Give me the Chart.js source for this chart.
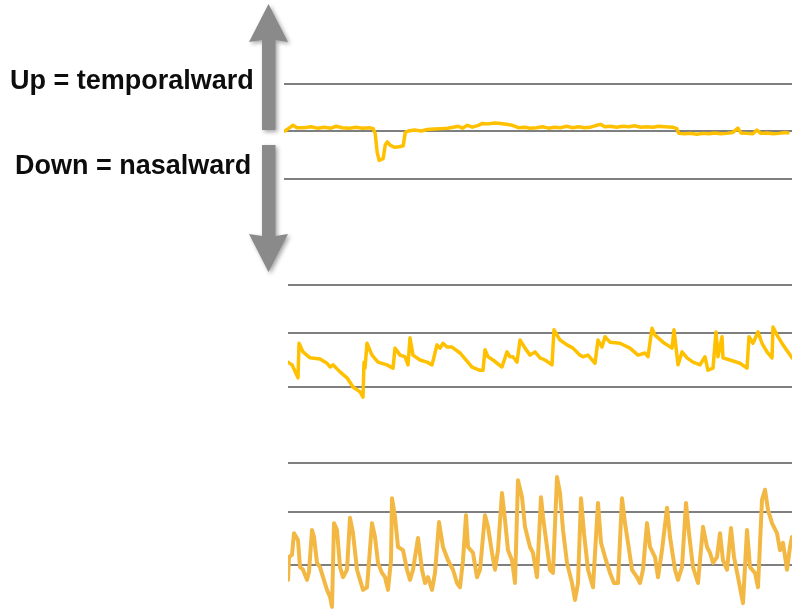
<!DOCTYPE html>
<html><head><meta charset="utf-8">
<script src="https://cdn.jsdelivr.net/npm/chart.js@4.4.1/dist/chart.umd.min.js"></script>
<style>
html,body{margin:0;padding:0;width:792px;height:612px;overflow:hidden;background:#fff;}
canvas{position:absolute;left:0;}
.lbl{position:absolute;font-family:'Liberation Sans',Arial,sans-serif;font-weight:bold;font-size:27px;line-height:27px;color:#0d0d0d;white-space:nowrap;}
</style></head><body>
<canvas id="c1" width="792" height="285" style="top:0px"></canvas>
<canvas id="c2" width="792" height="230" style="top:220px"></canvas>
<canvas id="c3" width="792" height="220" style="top:400px"></canvas>
<div class="lbl" style="left:10px;top:67px">Up = temporalward</div>
<div class="lbl" style="left:15px;top:152px">Down = nasalward</div>
<script>
// Time (deciseconds) and horizontal eye position (arbitrary units; + = temporalward)
const topTime = [1,5,9,13,20,27,33,40,47,52,58,65,72,78,85,89,91,93,95,97,99,101,103,106,110,115,119,121,124,130,137,143,150,157,163,169,174,178,183,188,194,198,204,210,216,222,228,234,240,246,252,258,264,270,276,282,288,294,300,306,312,316,320,326,332,338,344,350,356,362,368,374,380,388,392,394,400,406,412,418,424,430,436,442,448,453,456,462,468,472,476,482,488,494,500,503];
const topPos  = [0.0,0.06,0.12,0.07,0.07,0.09,0.06,0.08,0.06,0.1,0.07,0.06,0.08,0.06,0.07,0.05,-0.05,-0.45,-0.62,-0.6,-0.58,-0.3,-0.23,-0.3,-0.34,-0.33,-0.31,-0.03,0.0,0.02,0.0,0.03,0.04,0.05,0.06,0.08,0.1,0.06,0.12,0.08,0.12,0.16,0.15,0.17,0.16,0.14,0.12,0.07,0.08,0.06,0.07,0.09,0.06,0.08,0.07,0.1,0.07,0.09,0.07,0.08,0.12,0.14,0.09,0.1,0.08,0.1,0.09,0.11,0.08,0.09,0.08,0.1,0.09,0.08,0.05,-0.05,-0.06,-0.05,-0.07,-0.05,-0.06,-0.04,-0.06,-0.05,-0.03,0.06,-0.04,-0.05,-0.06,0.02,-0.05,-0.04,-0.06,-0.05,-0.03,-0.04];

const midTime = [0,4,10,11,15,22,32,39,42,45,52,59,65,72,75,76,77,79,84,90,99,105,107,112,117,120,122,125,132,139,144,149,152,155,159,164,172,184,192,195,197,200,205,214,219,222,225,229,232,237,242,247,252,257,264,266,272,279,285,292,295,300,307,310,314,317,322,332,342,350,357,360,364,367,375,384,386,390,394,399,405,412,417,420,425,428,430,434,435,442,452,459,461,465,470,474,479,484,485,490,495,500,504];
const midPos  = [-0.54,-0.59,-0.83,-0.19,-0.35,-0.46,-0.48,-0.56,-0.63,-0.59,-0.72,-0.83,-1.0,-1.09,-1.19,-0.54,-0.65,-0.19,-0.41,-0.54,-0.59,-0.65,-0.28,-0.41,-0.44,-0.59,-0.09,-0.41,-0.5,-0.54,-0.59,-0.22,-0.28,-0.19,-0.26,-0.26,-0.37,-0.63,-0.69,-0.69,-0.31,-0.44,-0.5,-0.63,-0.35,-0.44,-0.44,-0.54,-0.13,-0.28,-0.41,-0.35,-0.46,-0.5,-0.59,0.06,-0.13,-0.22,-0.28,-0.41,-0.44,-0.41,-0.56,-0.13,-0.26,-0.07,-0.17,-0.19,-0.28,-0.41,-0.37,-0.44,0.09,-0.04,-0.17,-0.28,0.06,-0.59,-0.35,-0.46,-0.54,-0.59,-0.44,-0.69,-0.65,0.02,-0.44,-0.07,-0.46,-0.5,-0.56,-0.65,-0.07,-0.19,0.02,-0.19,-0.35,-0.46,0.11,-0.07,-0.22,-0.35,-0.46];

const botTime = [0,1,4,6,10,12,15,19,21,24,26,29,32,35,39,42,44,46,49,52,55,59,62,65,69,72,75,79,84,87,90,94,97,100,103,104,107,110,115,119,122,125,130,134,137,140,144,147,151,155,160,165,169,172,175,178,180,185,189,192,197,200,204,207,210,214,217,220,224,227,230,234,237,242,245,249,253,255,259,262,265,269,272,275,279,284,287,290,293,296,300,305,310,313,317,322,326,330,334,337,340,344,349,352,355,359,362,367,370,374,379,382,387,390,394,398,401,405,410,415,419,422,425,429,432,435,439,443,446,450,455,459,462,467,470,474,477,480,484,489,492,495,499,502,504];
const botPos  = [-1.28,-0.85,-0.81,-0.4,-0.53,-1.04,-1.09,-1.28,-1.13,-0.34,-0.47,-0.96,-1.04,-1.23,-1.47,-1.6,-1.79,-0.21,-0.34,-1.04,-1.23,-1.09,-0.11,-0.4,-1.09,-1.28,-1.47,-1.42,-0.21,-0.47,-0.96,-1.15,-1.23,-1.47,-0.91,0.26,-0.09,-0.66,-0.72,-1.09,-1.28,-1.09,-0.49,-1.09,-1.34,-1.23,-1.47,-1.15,-0.19,-0.66,-0.91,-1.09,-1.34,-1.42,-0.91,-0.06,-0.66,-0.77,-1.23,-1.09,-0.06,-0.28,-0.77,-1.09,-0.72,0.36,-0.15,-0.72,-0.91,-1.34,0.6,0.28,-0.28,-0.66,-0.77,-1.23,0.28,-0.09,-0.66,-1.09,-1.15,0.66,0.36,-0.34,-0.96,-1.34,-1.66,-1.34,0.26,-0.4,-1.09,-1.42,0.17,-0.58,-0.85,-1.15,-1.34,-1.34,0.26,-0.21,-0.58,-1.09,-1.23,-1.34,-1.09,-0.21,-0.66,-0.85,-1.23,-0.72,0.08,-0.47,-1.09,-1.28,-1.04,0.17,-0.4,-1.04,-1.34,-0.28,-0.66,-0.77,-0.96,-0.85,-0.4,-0.91,-1.09,-0.3,-0.85,-1.23,-1.72,-0.34,-1.04,-1.15,-1.42,0.23,0.42,0.04,-0.21,-0.4,-0.72,-0.58,-1.09,-0.66,-0.47];

// grid reference levels per panel
const topTicks = [-1, 0, 1];
const midTicks = [-1, 0, 0.89];
const botTicks = [-1, 0, 0.92];

const arrowPlugin = {
  id: 'arrows',
  afterDraw(chart) {
    const ctx = chart.ctx;
    ctx.save();
    ctx.fillStyle = '#8a8a8a';
    ctx.shadowColor = 'rgba(0,0,0,0.35)';
    ctx.shadowBlur = 4; ctx.shadowOffsetX = 2; ctx.shadowOffsetY = 2;
    ctx.beginPath();
    ctx.moveTo(268.5, 4); ctx.lineTo(288, 42); ctx.lineTo(275.5, 40); ctx.lineTo(275.5, 130);
    ctx.lineTo(262, 130); ctx.lineTo(262, 40); ctx.lineTo(249, 42); ctx.closePath(); ctx.fill();
    ctx.beginPath();
    ctx.moveTo(262, 145); ctx.lineTo(275.5, 145); ctx.lineTo(275.5, 236); ctx.lineTo(288, 234);
    ctx.lineTo(268.5, 272); ctx.lineTo(249, 234); ctx.lineTo(262, 236); ctx.closePath(); ctx.fill();
    ctx.restore();
  }
};

function makePanel(id, times, vals, ticks, color, width, xMax, padding, plugins) {
  const pts = times.map((t, i) => ({ x: t, y: vals[i] }));
  return new Chart(document.getElementById(id), {
    type: 'line',
    data: { datasets: [{ data: pts, borderColor: color, borderWidth: width, pointRadius: 0, tension: 0,
      borderJoinStyle: 'round', borderCapStyle: 'round', fill: false }] },
    options: {
      responsive: false, animation: false, devicePixelRatio: 1,
      layout: { padding: padding },
      plugins: { legend: { display: false }, tooltip: { enabled: false } },
      scales: {
        x: { type: 'linear', min: 0, max: xMax, display: false },
        y: { type: 'linear', min: -2, max: 2,
             afterBuildTicks: s => { s.ticks = ticks.map(v => ({ value: v })); },
             ticks: { display: false },
             grid: { color: '#7f7f7f', lineWidth: 2, drawTicks: false },
             border: { display: false } }
      }
    },
    plugins: plugins || []
  });
}

makePanel('c1', topTime, topPos, topTicks, '#FFC000', 3.5, 507, { left: 284, top: 36, bottom: 59, right: 0 }, [arrowPlugin]);
makePanel('c2', midTime, midPos, midTicks, '#FFC000', 3.5, 504, { left: 288, top: 5, bottom: 9, right: 0 });
makePanel('c3', botTime, botPos, botTicks, '#F3B843', 4, 504, { left: 288, top: 6, bottom: 2, right: 0 });
</script>
</body></html>
